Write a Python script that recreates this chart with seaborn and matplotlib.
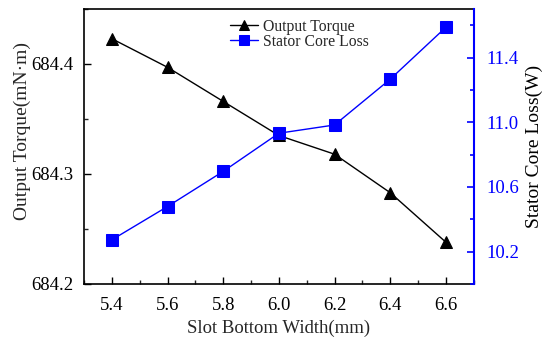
import matplotlib
matplotlib.use("Agg")
import matplotlib.pyplot as plt
from matplotlib.ticker import MultipleLocator
import seaborn as sns
import pandas as pd

# Slot bottom width sweep (mm)
slot_width = [5.4, 5.6, 5.8, 6.0, 6.2, 6.4, 6.6]
# Output torque (mN·m)
torque = [684.423, 684.397, 684.366, 684.335, 684.318, 684.283, 684.238]
# Stator core loss (W)
core_loss = [10.273, 10.479, 10.696, 10.932, 10.983, 11.266, 11.587]
# Tick values
torque_ticks = [684.2, 684.3, 684.4]
loss_ticks = [10.2, 10.6, 11.0, 11.4]

df = pd.DataFrame({"width": slot_width, "torque": torque, "loss": core_loss})

sns.set_style("ticks")
plt.rcParams["font.family"] = ["Liberation Serif", "DejaVu Serif"]

fig = plt.figure(figsize=(5.43, 3.37), dpi=100)
ax = fig.add_axes([0.1547, 0.1573, 0.7177, 0.816])
ax2 = ax.twinx()

sns.lineplot(data=df, x="width", y="torque", ax=ax, color="black",
             marker="^", markersize=9, markeredgecolor="black",
             linewidth=1.0, label="Output Torque", legend=False)
sns.lineplot(data=df, x="width", y="loss", ax=ax2, color="blue",
             marker="s", markersize=8, markeredgecolor="blue",
             linewidth=1.0, label="Stator Core Loss", legend=False)

ax.set_xlim(5.3, 6.7)
ax.set_ylim(684.2, 684.45)
ax2.set_ylim(10.0, 11.7)

ax.set_xticks(slot_width)
ax.set_xticklabels([f"{v:.1f}" for v in slot_width])
ax.xaxis.set_minor_locator(MultipleLocator(0.1))
ax.set_yticks(torque_ticks)
ax.set_yticklabels([f"{v:.1f}" for v in torque_ticks])
ax.yaxis.set_minor_locator(MultipleLocator(0.05))
ax2.set_yticks(loss_ticks)
ax2.set_yticklabels([f"{v:.1f}" for v in loss_ticks])
ax2.set_yticks([10.0, 10.4, 10.8, 11.2, 11.6], minor=True)

ax.tick_params(axis="both", which="major", direction="in", length=5,
               width=1.0, labelsize=13.5, colors="black")
ax.tick_params(axis="both", which="minor", direction="in", length=3,
               width=1.0)
ax.tick_params(axis="x", which="major", pad=9.5)
ax.tick_params(axis="y", which="major", pad=8)
ax2.tick_params(axis="y", which="major", direction="in", length=5,
                width=1.2, labelsize=13.5, colors="blue", pad=9)
ax2.tick_params(axis="y", which="minor", direction="in", length=3,
                width=1.2, colors="blue")

for s in ["left", "top", "bottom"]:
    ax.spines[s].set_linewidth(1.2)
    ax.spines[s].set_color("black")
    ax2.spines[s].set_visible(False)
ax.spines["right"].set_visible(False)
ax2.spines["right"].set_color("blue")
ax2.spines["right"].set_linewidth(1.5)

ax.set_xlabel("Slot Bottom Width(mm)", fontsize=13.5, labelpad=4)
ax.set_ylabel("Output Torque(mN·m)", fontsize=14)
ax.yaxis.set_label_coords(-0.137, 0.555)
ax2.set_ylabel("Stator Core Loss(W)", fontsize=14, labelpad=5, color="black")

h1, l1 = ax.get_legend_handles_labels()
h2, l2 = ax2.get_legend_handles_labels()
ax2.legend(h1 + h2, l1 + l2, loc="upper left", bbox_to_anchor=(0.375, 0.965),
           frameon=False, fontsize=11.3, handlelength=1.8, handletextpad=0.3,
           labelspacing=-0.05, borderpad=0, borderaxespad=0, markerscale=0.85)

fig.savefig("out.png", dpi=100)
